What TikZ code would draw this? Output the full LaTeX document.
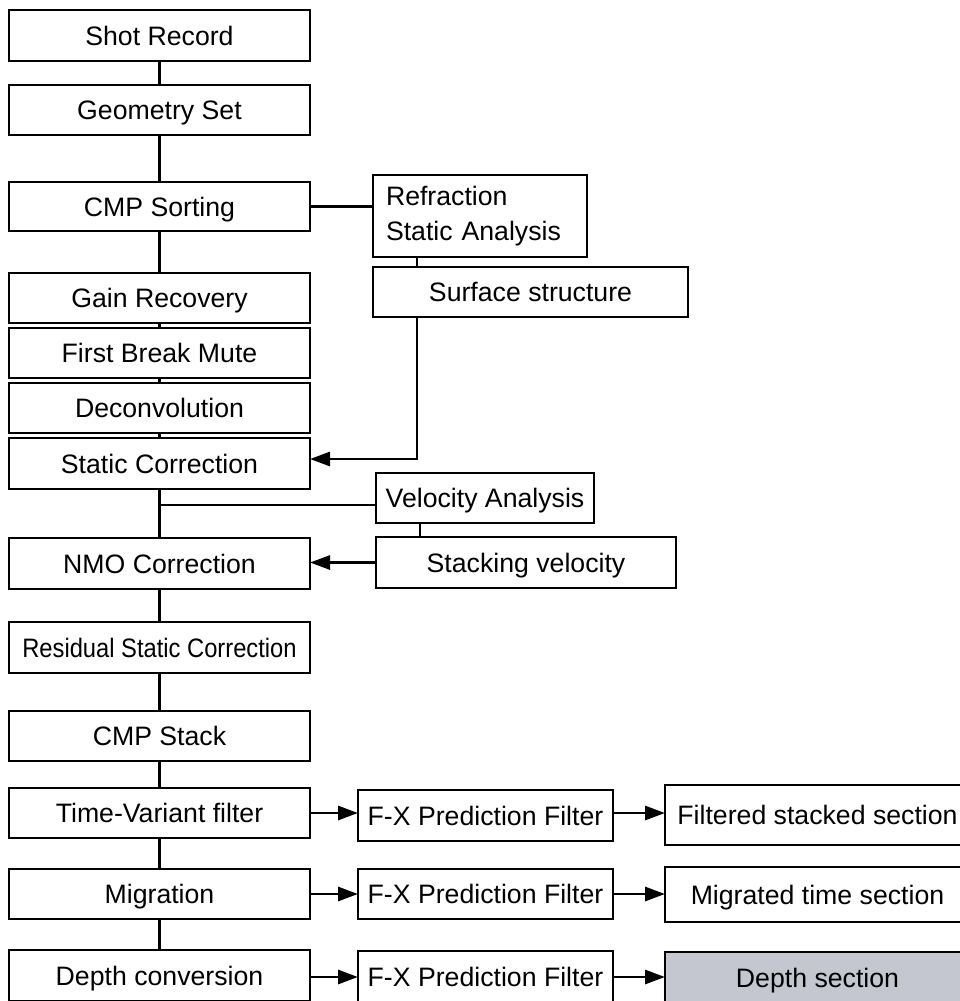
\documentclass[tikz,border=0pt]{standalone}
\usepackage{fontspec}
\setmainfont{Liberation Sans}
\usetikzlibrary{arrows.meta,calc}
\definecolor{graybox}{RGB}{196,199,207}
\newcommand{\bx}[7]{\node[box,minimum width={(#4-#2)*0.75pt},minimum height={(#5-#3)*0.75pt},#6] (#1) at ({(#2+#4)/2},{(#3+#5)/2}) {#7};}
\tikzset{
  boxbase/.style={draw=black,line width=2.2pt,inner sep=0pt,outer sep=0pt,align=center,
    font=\fontsize{20}{26}\selectfont},
  box/.style={boxbase,text height=14.4pt,text depth=0pt},
  multibox/.style={boxbase},
  conn/.style={line width=2.2pt},
  arr/.style={line width=2.2pt,-{Triangle[length=15pt,width=10.5pt]}},
}
\begin{document}
\begin{tikzpicture}[x=0.75pt,y=-0.75pt]
\useasboundingbox (0,0) rectangle (960,1001);
% left column
\bx{shot}{9}{10}{310}{61}{}{Shot Record}
\bx{geom}{9}{85}{310}{135}{}{Geometry Set}
\bx{sort}{9}{182}{310}{231}{}{CMP Sorting}
\bx{gain}{9}{273}{310}{323}{}{Gain Recovery}
\bx{fbm}{9}{328}{310}{378}{}{First Break Mute}
\bx{decon}{9}{383}{310}{433}{}{Deconvolution}
\bx{stat}{9}{438}{310}{489}{}{Static Correction}
\bx{nmo}{9}{538}{310}{589}{}{NMO Correction}
\bx{resid}{9}{622}{310}{673}{}{\scalebox{0.89}[1]{Residual Static Correction}}
\bx{stack}{9}{711}{310}{761}{}{CMP Stack}
\bx{tvf}{9}{788}{310}{838}{}{Time-Variant filter}
\bx{mig}{9}{869}{310}{919}{}{Migration}
\bx{depth}{9}{950}{310}{1001}{}{Depth conversion}
% side boxes
\node[multibox,minimum width={214*0.75pt},minimum height={82*0.75pt},align=left,text width={188*0.75pt},inner xsep={13*0.75pt}] (refr) at (480,216) {Refraction\\Static Analysis};
\bx{surf}{373}{267}{688}{317}{}{Surface structure}
\bx{vel}{376}{473}{594}{523}{}{Velocity Analysis}
\bx{stv}{376}{537}{676}{588}{}{Stacking velocity}
% filter row
\bx{fx1}{358}{790}{613}{841}{}{F-X Prediction Filter}
\bx{fx2}{358}{869}{613}{919}{}{F-X Prediction Filter}
\bx{fx3}{358}{951}{613}{1003}{}{F-X Prediction Filter}
\bx{res1}{665}{785}{970}{845}{}{Filtered stacked section}
\bx{res2}{665}{867}{970}{922}{}{Migrated time section}
\bx{res3}{665}{952}{970}{1004}{fill=graybox}{Depth section}
% vertical main connectors
\draw[conn] (shot) -- (geom);
\draw[conn] (geom) -- (sort);
\draw[conn] (sort) -- (gain);
\draw[conn] (gain) -- (fbm);
\draw[conn] (fbm) -- (decon);
\draw[conn] (decon) -- (stat);
\draw[conn] (stat) -- (nmo);
\draw[conn] (nmo) -- (resid);
\draw[conn] (resid) -- (stack);
\draw[conn] (stack) -- (tvf);
\draw[conn] (tvf) -- (mig);
\draw[conn] (mig) -- (depth);
% refraction branch
\draw[conn] (sort.east) -- (sort.east -| refr.west);
\coordinate (rs) at (417,257);
\coordinate (sk) at (417,459);
\draw[conn] (rs) -- (rs |- surf.north);
\draw[arr] (rs |- surf.south) -- (sk) -- (sk -| stat.east);
% velocity branch
\coordinate (vj) at (160,505);
\draw[conn] (vj) -- (vj -| vel.west);
\coordinate (vs) at (420,523);
\draw[conn] (vs) -- (vs |- stv.north);
\draw[arr] (stv.west) -- (stv.west -| nmo.east);
% filter arrows
\coordinate (a1) at (310,813);
\coordinate (a2) at (310,894);
\coordinate (a3) at (310,977);
\draw[arr] (a1) -- (a1 -| fx1.west);
\draw[arr] (a2) -- (a2 -| fx2.west);
\draw[arr] (a3) -- (a3 -| fx3.west);
\draw[arr] (fx1.east |- a1) -- (a1 -| res1.west);
\draw[arr] (fx2.east |- a2) -- (a2 -| res2.west);
\draw[arr] (fx3.east |- a3) -- (a3 -| res3.west);
\end{tikzpicture}
\end{document}
